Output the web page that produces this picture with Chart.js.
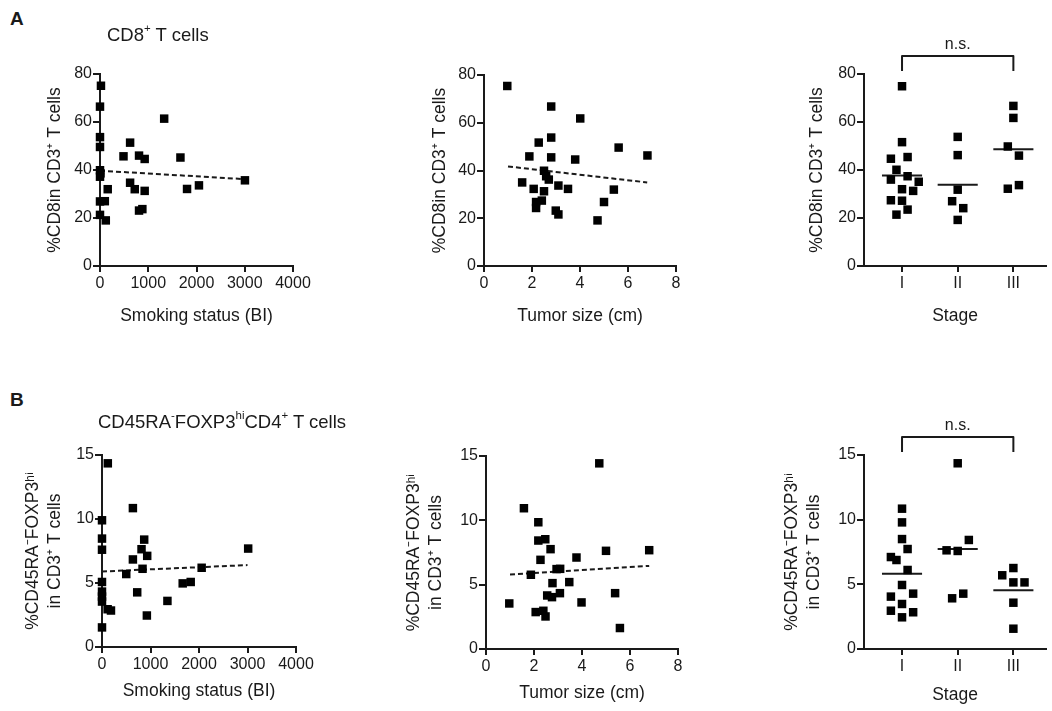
<!DOCTYPE html>
<html><head><meta charset="utf-8">
<script src="https://cdn.jsdelivr.net/npm/chart.js@4.4.1/dist/chart.umd.min.js"></script>
<style>
body{margin:0;background:#fff;width:1052px;height:711px;position:relative;overflow:hidden;font-family:"Liberation Sans",Arial,sans-serif;color:#1a1a1a}
canvas{position:absolute}
.lbl{position:absolute;white-space:nowrap;line-height:1}
sup{font-size:62%;vertical-align:top;position:relative;top:-3px}
</style></head><body>
<canvas id="a1"></canvas><canvas id="a2"></canvas><canvas id="a3"></canvas>
<canvas id="b1"></canvas><canvas id="b2"></canvas><canvas id="b3"></canvas>
<div class="lbl" style="left:10px;top:9px;font-weight:bold;font-size:19px">A</div>
<div class="lbl" style="left:107px;top:26px;font-size:18.5px">CD8<sup>+</sup> T cells</div>
<div class="lbl" style="left:10px;top:390px;font-weight:bold;font-size:19px">B</div>
<div class="lbl" style="left:98px;top:413px;font-size:18.5px">CD45RA<sup>-</sup>FOXP3<sup>hi</sup>CD4<sup>+</sup> T cells</div>
<script>
// ---------- data ----------
const stageLabels = ['I', 'II', 'III'];

// A: CD8 vs smoking status (BI)
const cd8SmokeX = [20,0,0,0,0,10,0,0,100,0,120,160,487,624,624,720,809,926,926,809,878,1330,1667,1804,2051,3004];
const cd8SmokeY = [75.1,66.4,53.7,49.6,39.9,38.6,37.2,26.9,27,21.3,19,32,45.7,51.4,34.7,32,46,44.6,31.3,23.1,23.7,61.4,45.2,32.1,33.6,35.7];
const cd8SmokeFitX = [0, 3000];
const cd8SmokeFitY = [39.7, 36.2];

// A: CD8 vs tumor size (cm)
const cd8SizeX = [0.97,2.8,4.01,2.8,2.28,5.61,6.81,1.89,2.8,3.8,2.5,2.59,2.7,1.59,3.1,3.5,2.07,5.41,2.5,2.17,2.41,5.0,2.17,2.99,3.1,4.73];
const cd8SizeY = [75.4,66.8,61.8,53.8,51.7,49.6,46.3,45.9,45.5,44.6,39.9,37.6,36.2,35.0,33.7,32.3,32.3,32.0,31.3,26.8,27.4,26.8,24.3,23.2,21.6,19.1];
const cd8SizeFitX = [1, 6.8];
const cd8SizeFitY = [41.7, 35.0];

// A: CD8 by stage
const cd8StageI   = [74.9,51.6,44.7,45.4,40.1,36.0,37.4,35.1,32.0,31.3,27.4,27.2,23.5,21.4];
const cd8StageII  = [53.8,46.2,31.8,27.0,24.1,19.2];
const cd8StageIII = [66.7,61.7,49.8,46.0,32.2,33.7];
const cd8StageMedians = [37.7, 33.9, 48.6];
// horizontal spread of the dot columns (fraction of a category)
const cd8StageIOffset   = [0,0,-0.2,0.1,-0.1,-0.2,0.1,0.3,0,0.2,-0.2,0,0.1,-0.1];
const cd8StageIIOffset  = [0,0,0,-0.1,0.1,0];
const cd8StageIIIOffset = [0,0,-0.1,0.1,-0.1,0.1];

// B: Treg vs smoking status (BI)
const tregSmokeX = [120,0,0,0,0,0,0,0,0,116,185,637,637,500,726,815,870,932,836,925,1349,1664,1829,2055,3014];
const tregSmokeY = [14.35,9.9,8.47,7.6,5.08,4.33,3.94,3.55,1.53,2.95,2.85,10.85,6.84,5.7,4.27,7.64,8.39,7.12,6.11,2.46,3.6,4.97,5.08,6.19,7.69];
const tregSmokeFitX = [0, 3000];
const tregSmokeFitY = [5.9, 6.4];

// B: Treg vs tumor size (cm)
const tregSizeX = [4.72,1.58,2.18,2.18,2.47,2.69,2.27,3.77,5.0,6.8,1.87,2.94,3.09,2.77,3.47,2.55,2.75,3.08,5.38,0.97,3.98,2.07,2.39,2.48,5.58];
const tregSizeY = [14.43,10.94,9.85,8.43,8.53,7.76,6.93,7.11,7.63,7.68,5.77,6.21,6.23,5.12,5.2,4.16,4.03,4.34,4.34,3.54,3.62,2.87,2.97,2.53,1.63];
const tregSizeFitX = [1, 6.8];
const tregSizeFitY = [5.79, 6.46];

// B: Treg by stage
const tregStageI   = [10.85,9.79,8.5,7.73,7.11,6.88,6.11,4.95,4.05,4.28,3.48,2.96,2.84,2.45];
const tregStageII  = [14.36,7.63,7.58,8.43,3.92,4.28];
const tregStageIII = [5.7,6.26,5.15,5.15,3.58,1.57];
const tregStageMedians = [5.82, 7.73, 4.54];
const tregStageIOffset   = [0,0,0,0.1,-0.2,-0.1,0.1,0,-0.2,0.2,0,-0.2,0.2,0];
const tregStageIIOffset  = [0,-0.2,0,0.2,-0.1,0.1];
const tregStageIIIOffset = [-0.2,0,0,0.2,0,0];

// ---------- drawing ----------
const INK = '#1a1a1a';
const FONT = '"Liberation Sans", Arial, sans-serif';
const MEDIAN_HALF = 0.36;

const bracketPlugin = {
  id: 'bracket',
  afterDraw(chart, args, opts) {
    if (!opts || !opts.show) return;
    const {ctx, chartArea, scales: {x}} = chart;
    const x1 = x.getPixelForValue(opts.from), x2 = x.getPixelForValue(opts.to);
    const top = chartArea.top - 18, bot = chartArea.top - 3;
    ctx.save();
    ctx.strokeStyle = INK; ctx.lineWidth = 2; ctx.lineJoin = 'round';
    ctx.beginPath(); ctx.moveTo(x1, bot); ctx.lineTo(x1, top); ctx.lineTo(x2, top); ctx.lineTo(x2, bot); ctx.stroke();
    ctx.fillStyle = INK; ctx.font = '16px ' + FONT; ctx.textAlign = 'center'; ctx.textBaseline = 'middle';
    ctx.fillText(opts.text, (x1 + x2) / 2, chartArea.top - 29);
    ctx.restore();
  }
};

function pts(xs, ys) { return xs.map((x, i) => ({x, y: ys[i]})); }
function dotSet(data) {
  return {data, pointStyle: 'rect', pointRadius: 6, pointHoverRadius: 6,
    pointBackgroundColor: '#000', pointBorderWidth: 0, showLine: false, clip: false};
}
function lineSet(data, dash) {
  return {data, showLine: true, pointRadius: 0, borderColor: INK, borderWidth: 2,
    borderDash: dash || [], clip: false, fill: false};
}

function makeChart(id, g, sc, datasets) {
  const cv = document.getElementById(id);
  cv.width = g.W; cv.height = g.H;
  cv.style.left = g.L + 'px'; cv.style.top = g.T + 'px';
  const tickFont = {family: FONT, size: 16};
  const titleFont = {family: FONT, size: 17.5, lineHeight: sc.yLH || 1.2};
  return new Chart(cv, {
    type: 'scatter',
    data: {datasets},
    plugins: [bracketPlugin],
    options: {
      responsive: false, maintainAspectRatio: false, animation: false, events: [],
      layout: {padding: {top: g.pt, right: g.pr, bottom: 0, left: 0}},
      plugins: {legend: {display: false}, tooltip: {enabled: false},
        bracket: sc.bracket || {show: false}},
      scales: {
        x: {
          type: 'linear', min: sc.xmin, max: sc.xmax,
          afterFit: s => { s.height = g.xh; s.paddingLeft = 0; s.paddingRight = 0; },
          afterBuildTicks: sc.xcats ? (s => { s.ticks = sc.xcats.map((c, i) => ({value: i + 1})); }) : undefined,
          ticks: {stepSize: sc.xstep, color: INK, font: tickFont, padding: 2, maxRotation: 0, autoSkip: false,
            callback: sc.xcats ? ((v, i) => sc.xcats[i]) : (v => String(v))},
          grid: {drawOnChartArea: false, drawTicks: true, tickLength: 6, color: INK, lineWidth: 2},
          border: {display: true, color: INK, width: 2},
          title: {display: true, text: sc.xTitle, color: INK, font: {family: FONT, size: 17.5, lineHeight: 1.2}, padding: {top: 0, bottom: 0}}
        },
        y: {
          type: 'linear', min: sc.ymin, max: sc.ymax,
          afterFit: s => { s.width = g.yw; s.paddingTop = 0; s.paddingBottom = 0; },
          ticks: {stepSize: sc.ystep, color: INK, font: tickFont, padding: 1, callback: v => String(v)},
          grid: {drawOnChartArea: false, drawTicks: true, tickLength: 7, color: INK, lineWidth: 2},
          border: {display: true, color: INK, width: 2},
          title: {display: true, text: sc.yTitle, color: INK, font: titleFont, padding: {top: g.yt, bottom: 0}}
        }
      }
    }
  });
}

function stageDatasets(groups, offsets, medians) {
  const dots = [];
  groups.forEach((vals, gi) => vals.forEach((v, i) => dots.push({x: gi + 1 + offsets[gi][i], y: v})));
  const sets = [dotSet(dots)];
  medians.forEach((m, gi) => sets.push(lineSet([{x: gi + 1 - MEDIAN_HALF, y: m}, {x: gi + 1 + MEDIAN_HALF, y: m}])));
  return sets;
}

const cd8Title = '%CD8in CD3\u207A T cells';
const tregTitle = ['%CD45RA\u207BFOXP3\u02B0\u2071', 'in CD3\u207A T cells'];
const DASH = [5, 3];

// A1
makeChart('a1', {L: 0, T: 30, W: 330, H: 297, pt: 44, pr: 37, yw: 100, xh: 61, yt: 45},
  {xmin: 0, xmax: 4000, xstep: 1000, ymin: 0, ymax: 80, ystep: 20, xTitle: 'Smoking status (BI)', yTitle: cd8Title},
  [dotSet(pts(cd8SmokeX, cd8SmokeY)), lineSet(pts(cd8SmokeFitX, cd8SmokeFitY), DASH)]);
// A2
makeChart('a2', {L: 400, T: 30, W: 330, H: 297, pt: 45, pr: 54, yw: 84, xh: 61, yt: 30}, 
  {xmin: 0, xmax: 8, xstep: 2, ymin: 0, ymax: 80, ystep: 20, xTitle: 'Tumor size (cm)', yTitle: cd8Title},
  [dotSet(pts(cd8SizeX, cd8SizeY)), lineSet(pts(cd8SizeFitX, cd8SizeFitY), DASH)]);
// A3
makeChart('a3', {L: 770, T: 30, W: 282, H: 297, pt: 44, pr: 0, yw: 94, xh: 61, yt: 36.5},
  {xmin: 0.317, xmax: 3.586, xcats: stageLabels, ymin: 0, ymax: 80, ystep: 20, xTitle: 'Stage', yTitle: cd8Title,
   bracket: {show: true, from: 1, to: 3, text: 'n.s.'}},
  stageDatasets([cd8StageI, cd8StageII, cd8StageIII], [cd8StageIOffset, cd8StageIIOffset, cd8StageIIIOffset], cd8StageMedians));
// B1
makeChart('b1', {L: 0, T: 410, W: 330, H: 292, pt: 45, pr: 34, yw: 102, xh: 55, yt: 21.5},
  {xmin: 0, xmax: 4000, xstep: 1000, ymin: 0, ymax: 15, ystep: 5, xTitle: 'Smoking status (BI)', yTitle: tregTitle, yLH: 1.3},
  [dotSet(pts(tregSmokeX, tregSmokeY)), lineSet(pts(tregSmokeFitX, tregSmokeFitY), DASH)]);
// B2
makeChart('b2', {L: 390, T: 410, W: 340, H: 294, pt: 46, pr: 52, yw: 96, xh: 55, yt: 12.5},
  {xmin: 0, xmax: 8, xstep: 2, ymin: 0, ymax: 15, ystep: 5, xTitle: 'Tumor size (cm)', yTitle: tregTitle, yLH: 1.3},
  [dotSet(pts(tregSizeX, tregSizeY)), lineSet(pts(tregSizeFitX, tregSizeFitY), DASH)]);
// B3
makeChart('b3', {L: 770, T: 410, W: 282, H: 296, pt: 45, pr: 0, yw: 94, xh: 57, yt: 10.5},
  {xmin: 0.317, xmax: 3.586, xcats: stageLabels, ymin: 0, ymax: 15, ystep: 5, xTitle: 'Stage', yTitle: tregTitle, yLH: 1.3,
   bracket: {show: true, from: 1, to: 3, text: 'n.s.'}},
  stageDatasets([tregStageI, tregStageII, tregStageIII], [tregStageIOffset, tregStageIIOffset, tregStageIIIOffset], tregStageMedians));
</script>
</body></html>
